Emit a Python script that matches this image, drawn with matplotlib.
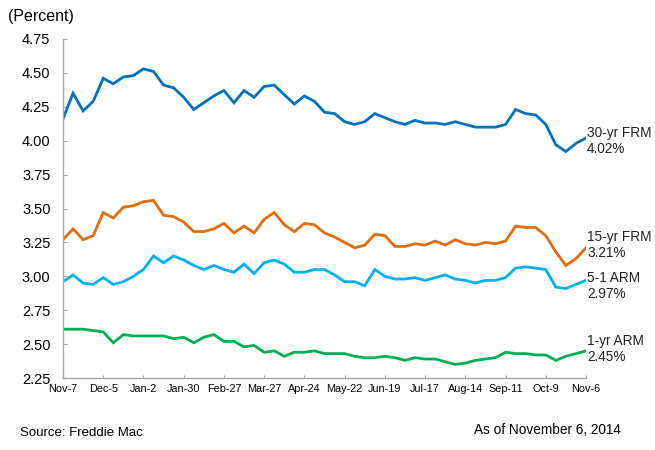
import matplotlib
matplotlib.use("Agg")
from matplotlib import pyplot as plt

# Freddie Mac PMMS weekly rates, Nov 7 2013 - Nov 6 2014
frm30 = [4.16, 4.35, 4.22, 4.29, 4.46, 4.42, 4.47, 4.48, 4.53, 4.51, 4.41, 4.39, 4.32,
         4.23, 4.28, 4.33, 4.37, 4.28, 4.37, 4.32, 4.40, 4.41, 4.34, 4.27, 4.33, 4.29,
         4.21, 4.20, 4.14, 4.12, 4.14, 4.20, 4.17, 4.14, 4.12, 4.15, 4.13, 4.13, 4.12,
         4.14, 4.12, 4.10, 4.10, 4.10, 4.12, 4.23, 4.20, 4.19, 4.12, 3.97, 3.92, 3.98, 4.02]
frm15 = [3.27, 3.35, 3.27, 3.30, 3.47, 3.43, 3.51, 3.52, 3.55, 3.56, 3.45, 3.44, 3.40,
         3.33, 3.33, 3.35, 3.39, 3.32, 3.37, 3.32, 3.42, 3.47, 3.38, 3.33, 3.39, 3.38,
         3.32, 3.29, 3.25, 3.21, 3.23, 3.31, 3.30, 3.22, 3.22, 3.24, 3.23, 3.26, 3.23,
         3.27, 3.24, 3.23, 3.25, 3.24, 3.26, 3.37, 3.36, 3.36, 3.30, 3.18, 3.08, 3.13, 3.21]
arm51 = [2.96, 3.01, 2.95, 2.94, 2.99, 2.94, 2.96, 3.00, 3.05, 3.15, 3.10, 3.15, 3.12,
         3.08, 3.05, 3.08, 3.05, 3.03, 3.09, 3.02, 3.10, 3.12, 3.09, 3.03, 3.03, 3.05,
         3.05, 3.01, 2.96, 2.96, 2.93, 3.05, 3.00, 2.98, 2.98, 2.99, 2.97, 2.99, 3.01,
         2.98, 2.97, 2.95, 2.97, 2.97, 2.99, 3.06, 3.07, 3.06, 3.05, 2.92, 2.91, 2.94, 2.97]
arm1 = [2.61, 2.61, 2.61, 2.60, 2.59, 2.51, 2.57, 2.56, 2.56, 2.56, 2.56, 2.54, 2.55,
        2.51, 2.55, 2.57, 2.52, 2.52, 2.48, 2.49, 2.44, 2.45, 2.41, 2.44, 2.44, 2.45,
        2.43, 2.43, 2.43, 2.41, 2.40, 2.40, 2.41, 2.40, 2.38, 2.40, 2.39, 2.39, 2.37,
        2.35, 2.36, 2.38, 2.39, 2.40, 2.44, 2.43, 2.43, 2.42, 2.42, 2.38, 2.41, 2.43, 2.45]

tick_labels = ['Nov-7', 'Dec-5', 'Jan-2', 'Jan-30', 'Feb-27', 'Mar-27', 'Apr-24',
               'May-22', 'Jun-19', 'Jul-17', 'Aug-14', 'Sep-11', 'Oct-9', 'Nov-6']
y_ticks = [2.25, 2.50, 2.75, 3.00, 3.25, 3.50, 3.75, 4.00, 4.25, 4.50, 4.75]

series = [('30-yr FRM', frm30, '#0070C0', 141),
          ('15-yr FRM', frm15, '#E46C0A', 245),
          ('5-1 ARM', arm51, '#00B0F0', 286),
          ('1-yr ARM', arm1, '#00B050', 349)]

plt.rcParams['font.family'] = ['Liberation Sans', 'DejaVu Sans']
W, H = 655, 450
fig = plt.figure(figsize=[W / 100, H / 100], dpi=100)
ax = fig.add_axes([63 / W, 1 - 378 / H, 523 / W, 339 / H])

x = list(range(len(frm30)))
for name, vals, col, ypix in series:
    ax.plot(x, vals, color=col, linewidth=2.0, solid_joinstyle='miter')
    fig.text(587 / W, 1 - (ypix - 8) / H, name, fontsize=9.8, va='center', color='#222222')
    fig.text(587 / W, 1 - (ypix + 8) / H, '%.2f%%' % vals[-1], fontsize=9.8, va='center',
             color='#222222')

ax.set_xlim(0, len(frm30) - 1)
ax.set_ylim(2.25, 4.75)
ax.set_yticks(y_ticks)
ax.set_yticklabels(['%.2f' % v for v in y_ticks], fontsize=10.5)
ax.set_xticks(range(0, len(frm30), 4))
ax.set_xticklabels(tick_labels, fontsize=7.8)

for s in ['top', 'right']:
    ax.spines[s].set_visible(False)
for s in ['left', 'bottom']:
    ax.spines[s].set_color('#A6A6A6')
    ax.spines[s].set_linewidth(1.0)
ax.tick_params(axis='y', direction='in', length=3, color='#A6A6A6', pad=9)
ax.tick_params(axis='x', direction='in', length=2, color='#A6A6A6', pad=4)

fig.text(8 / W, 1 - 17 / H, '(Percent)', fontsize=11.5, va='center')
fig.text(20 / W, 1 - 433 / H, 'Source: Freddie Mac', fontsize=9.5, va='center')
fig.text(474 / W, 1 - 430 / H, 'As of November 6, 2014', fontsize=9.8, va='center')

plt.savefig('out.png', dpi=100)
